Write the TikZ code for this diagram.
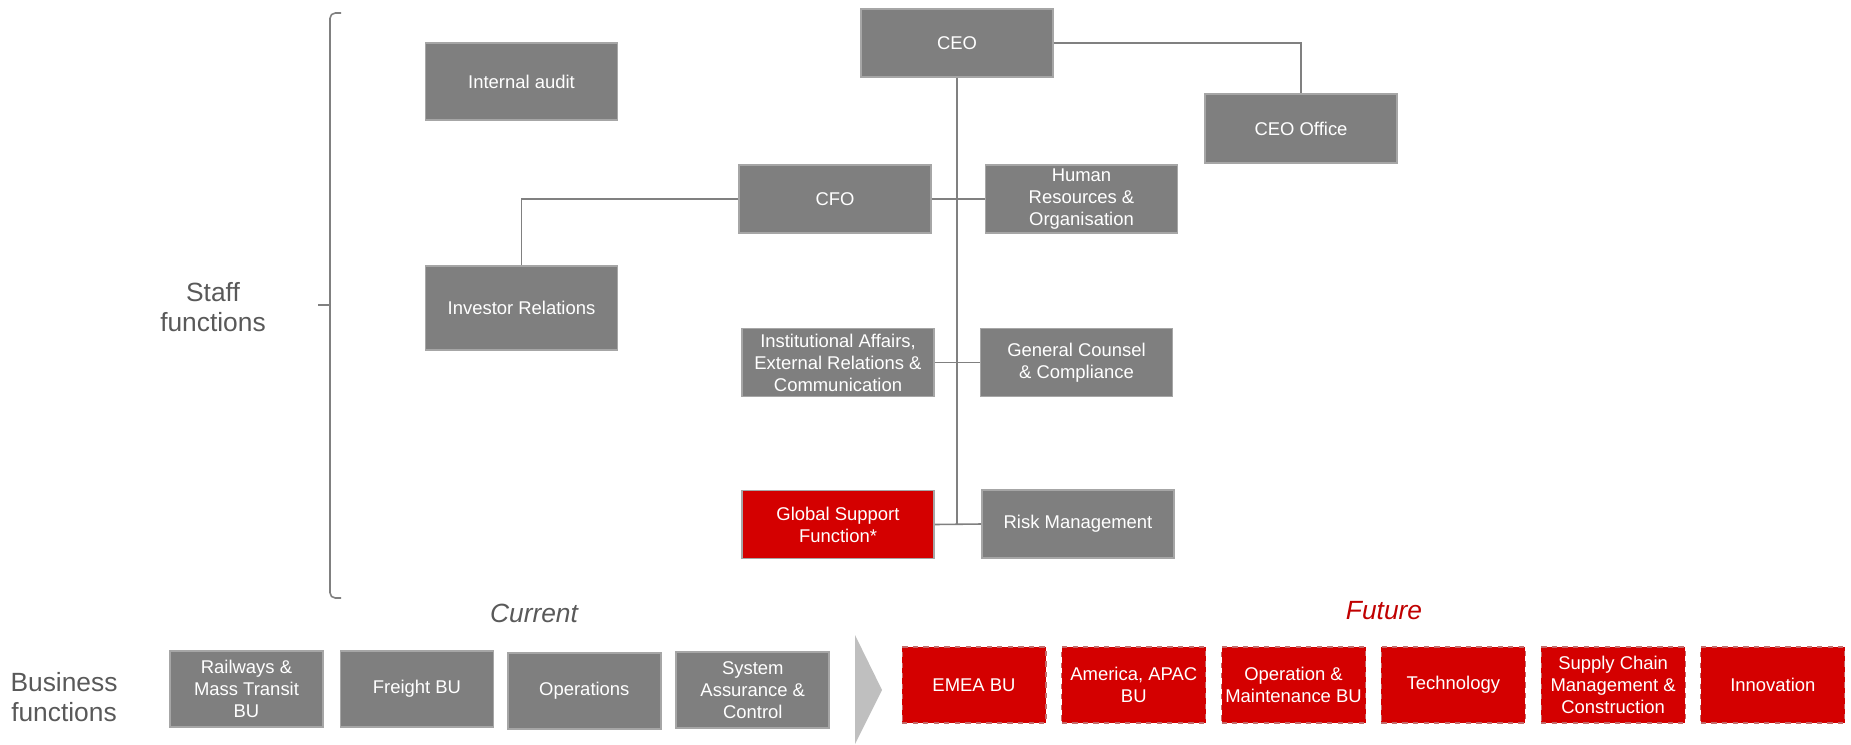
\documentclass[tikz,border=0pt]{standalone}
\usepackage{fontspec}
\setmainfont{Liberation Sans}
\usepackage{xcolor}
\usepackage{tikz}
\usetikzlibrary{positioning,calc}
\definecolor{boxgray}{HTML}{7F7F7F}
\definecolor{edgegray}{HTML}{A6A6A6}
\definecolor{linegray}{HTML}{808080}
\definecolor{labelgray}{HTML}{595959}
\definecolor{futred}{HTML}{D40000}
\definecolor{dashred}{HTML}{C46A6A}
\definecolor{futtext}{HTML}{C00000}
\definecolor{chevgray}{HTML}{BFBFBF}
\tikzset{
  orgbox/.style={
    rectangle, draw=edgegray, fill=#1, line width=1pt, text=white,
    minimum width=3.84cm, minimum height=1.36cm,
    font=\fontsize{10.5}{12.5}\selectfont, align=center,
    inner sep=1pt
  },
  orgbox/.default=boxgray,
  bubox/.style={
    rectangle, draw=edgegray, fill=boxgray, line width=1pt, text=white,
    minimum width=3.06cm, minimum height=1.52cm,
    font=\fontsize{10.5}{12.5}\selectfont, align=center,
    inner sep=1pt
  },
  futbox/.style={
    rectangle, draw=dashred, dashed, fill=futred, line width=0.6pt, text=white,
    minimum width=2.88cm, minimum height=1.52cm,
    font=\fontsize{10.5}{12.5}\selectfont, align=center,
    inner sep=1pt
  },
  orgline/.style={draw=linegray, line width=0.9pt},
  sidelabel/.style={text=#1, font=\fontsize{15}{17.5}\selectfont, align=center},
  sidelabel/.default=labelgray,
}

\begin{document}
\begin{tikzpicture}[x=0.02cm, y=-0.02cm]
  \useasboundingbox (0,0) rectangle (1851,744);
  % staff functions
  \node[orgbox] (ceo) at (957,43) {CEO};
  \node[orgbox, minimum height=1.38cm] (ceooffice) at (1301,128.5) {CEO Office};
  \node[orgbox, minimum height=1.54cm] (audit) at (521.5,81.5) {Internal audit};
  \node[orgbox] (cfo) at (835,199) {CFO};
  \node[orgbox] (hr) at (1081.5,199) {Human\\Resources \&\\Organisation};
  \node[orgbox, minimum height=1.68cm] (ir) at (521.5,308) {Investor Relations};
  \node[orgbox] (inst) at (838,362.5) {Institutional Affairs,\\External Relations \&\\Communication};
  \node[orgbox] (counsel) at (1076.5,362.5) {General Counsel\\\& Compliance};
  \node[orgbox=futred] (gsf) at (838,524.5) {Global Support\\Function*};
  \node[orgbox] (risk) at (1078,524) {Risk Management};
  \draw[orgline] (ceo.south) -- (ceo.south |- risk.west);
  \draw[orgline] (ceo.east) -| (ceooffice.north);
  \draw[orgline] (ir.north) |- (cfo.west);
  \draw[orgline] (cfo.east) -- (hr.west);
  \draw[orgline] (inst.east) -- (counsel.west);
  \draw[orgline] (gsf.east) -- (risk.west);
  \draw[orgline, rounded corners=3pt] (341,13) -- (330,13) -- (330,598) -- (341,598);
  \draw[orgline] (318,305) -- (330,305);
  \node[sidelabel] (staff) at (213,307) {Staff\\functions};
  % business functions
  \node[sidelabel] (business) at (64,697) {Business\\functions};
  \node[sidelabel, font=\fontsize{15}{17.5}\selectfont\itshape] (current) at (534,613) {Current};
  \node[sidelabel=futtext, font=\fontsize{15}{17.5}\selectfont\itshape] (future) at (1384,611) {Future};
  \node[bubox] (rail) at (246.5,689) {Railways \&\\Mass Transit\\BU};
  \node[bubox, right=0.314cm of rail] (freight) {Freight BU};
  \node[bubox, right=0.254cm of freight, yshift=-0.04cm] (ops) {Operations};
  \node[bubox, right=0.274cm of ops, yshift=0.02cm] (sysassur) {System\\Assurance \&\\Control};
  \fill[chevgray] (855,635) -- (882,690) -- (855,744) -- cycle;
  \node[futbox] (emea) at (974,685) {EMEA BU};
  \node[futbox, right=0.295cm of emea] (america) {America, APAC\\BU};
  \node[futbox, right=0.295cm of america] (opmaint) {Operation \&\\Maintenance BU};
  \node[futbox, right=0.295cm of opmaint] (tech) {Technology};
  \node[futbox, right=0.295cm of tech] (supply) {Supply Chain\\Management \&\\Construction};
  \node[futbox, right=0.295cm of supply] (innov) {Innovation};
\end{tikzpicture}
\end{document}
